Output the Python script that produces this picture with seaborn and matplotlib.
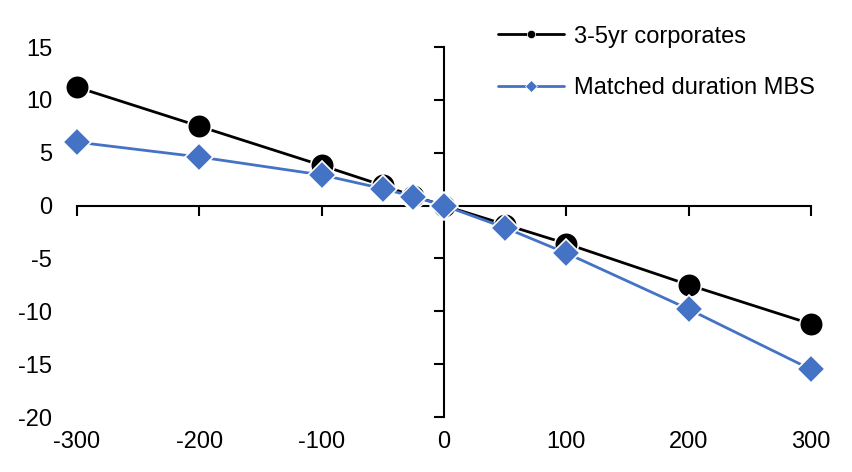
import pandas as pd
import matplotlib.pyplot as plt
import seaborn as sns

# Rate shock (bp) vs price change
shocks = [-300, -200, -100, -50, -25, 0, 50, 100, 200, 300]
corporates = [11.2, 7.5, 3.8, 1.9, 0.9, 0.0, -1.8, -3.6, -7.5, -11.2]
mbs = [6.0, 4.6, 2.9, 1.6, 0.85, 0.0, -2.1, -4.5, -9.8, -15.5]

x_ticks = [-300, -200, -100, 0, 100, 200, 300]
y_ticks = [-20, -15, -10, -5, 0, 5, 10, 15]

df = pd.DataFrame({"shock": shocks, "3-5yr corporates": corporates,
                   "Matched duration MBS": mbs})

sns.set_style("white")
plt.rcParams['font.family'] = ['Liberation Sans', 'DejaVu Sans']
plt.rcParams['axes.unicode_minus'] = False
plt.rcParams['text.color'] = 'black'
plt.rcParams['xtick.color'] = 'black'
plt.rcParams['ytick.color'] = 'black'

fig = plt.figure(figsize=(8.52, 4.72), dpi=100)
ax = fig.add_axes([77 / 852, 1 - 417 / 472, (811 - 77) / 852, (417 - 47) / 472])

sns.lineplot(data=df, x="shock", y="3-5yr corporates", ax=ax, color="black",
             lw=2, marker="o", markersize=17, markeredgecolor="white",
             markeredgewidth=1.2, label="3-5yr corporates", clip_on=False, zorder=3)
sns.lineplot(data=df, x="shock", y="Matched duration MBS", ax=ax, color="#4472C4",
             lw=2, marker="D", markersize=14, markeredgecolor="white",
             markeredgewidth=1.2, label="Matched duration MBS", clip_on=False, zorder=4)

ax.set_xlim(-300, 300)
ax.set_ylim(-20, 15)
ax.set_xlabel("")
ax.set_ylabel("")

# axes crossing at the origin
for s in ["top", "right"]:
    ax.spines[s].set_visible(False)
ax.spines["left"].set_position(("data", 0))
ax.spines["bottom"].set_position(("data", 0))
for s in ["left", "bottom"]:
    ax.spines[s].set_color("black")
    ax.spines[s].set_linewidth(1.5)
    ax.spines[s].set_zorder(2)
ax.set_xticks(x_ticks)
ax.set_yticks(y_ticks)
ax.tick_params(axis="both", direction="out", length=7, width=1.5, color="black",
               labelleft=False, labelbottom=False, left=True, bottom=True)

# tick labels at the low edges, like Excel
sec_y = ax.secondary_yaxis("left")
sec_y.set_yticks(y_ticks)
sec_y.spines["left"].set_visible(False)
sec_y.tick_params(length=0, labelsize=17, pad=18)
sec_x = ax.secondary_xaxis("bottom")
sec_x.set_xticks(x_ticks)
sec_x.spines["bottom"].set_visible(False)
sec_x.tick_params(length=0, labelsize=17, pad=10)

leg = ax.legend(loc="upper left", bbox_to_anchor=(0.545, 1.115), frameon=False,
                fontsize=17, handlelength=2.8, labelspacing=1.25, handletextpad=0.4)
for line in leg.get_lines():
    line.set_markersize(6)
    line.set_markeredgewidth(0.5)

fig.savefig("out.png", dpi=100)
